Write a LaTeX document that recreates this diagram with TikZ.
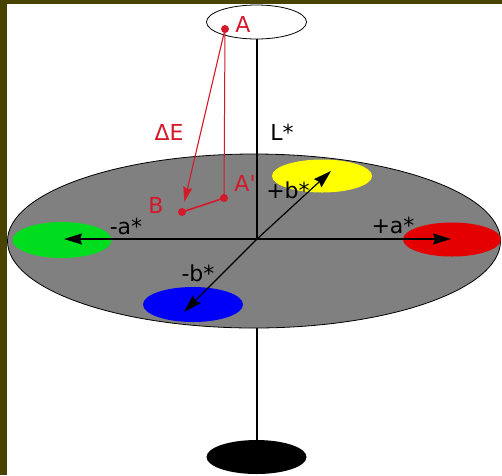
\documentclass[tikz,border=0pt]{standalone}
\usepackage{fontspec}
\setmainfont{DejaVu Sans}
\usetikzlibrary{shapes.geometric,arrows.meta,calc}
\definecolor{frameolive}{RGB}{72,68,0}
\definecolor{myred}{RGB}{212,26,42}
\definecolor{planegray}{RGB}{128,128,128}
\definecolor{spotgreen}{RGB}{0,220,30}
\definecolor{spotred}{RGB}{228,0,0}
\definecolor{spotblue}{RGB}{0,0,250}
\definecolor{spotyellow}{RGB}{255,255,0}
\begin{document}
\begin{tikzpicture}[x=1pt,y=-1pt,
  lbl/.style={font=\fontsize{22}{22}\selectfont, inner sep=0pt},
  redlbl/.style={lbl, text=myred},
  spot/.style={ellipse, minimum width=100pt, minimum height=34pt, inner sep=0pt},
  axarrow/.style={-{Stealth[length=18pt,width=11pt,inset=2pt]}, line width=1.2pt},
  dot/.style={circle, fill=myred, minimum size=8pt, inner sep=0pt}]
\fill[frameolive] (0,0) rectangle (502,475);
\fill[white] (7,4) rectangle (502,475);
\useasboundingbox (0,0) rectangle (502,475);
% plane
\node[ellipse, draw=black, line width=0.8pt, fill=planegray, minimum width=493pt, minimum height=174pt, inner sep=0pt] (plane) at (254,241) {};
% top and bottom ellipses
\node[spot, draw=black, line width=0.8pt, fill=white] (top) at (256.5,22) {};
\node[spot, fill=black] (bottom) at (256.5,457) {};
% coloured spots
\node[spot, fill=spotyellow, minimum height=33pt] (yellow) at (322,176) {};
\node[spot, fill=spotred, minimum width=98pt] (red) at (452,239.5) {};
\node[spot, fill=spotgreen, minimum width=99pt, minimum height=36pt] (green) at (62,240) {};
\node[spot, fill=spotblue, minimum height=35pt] (blue) at (193,304.5) {};
% axis
\coordinate (O) at (257,239);
\draw[line width=2pt] (top.south -| O) -- (O);
\draw[line width=2pt] (plane.south -| O) -- (bottom.north -| O);
% arrows
\coordinate (pa) at (451,239);
\coordinate (na) at (64,239);
\coordinate (pb) at (331,171);
\coordinate (nb) at (184,312);
\draw[axarrow] (O) -- (pa);
\draw[axarrow] (O) -- (na);
\draw[axarrow] (O) -- (pb);
\draw[axarrow] (O) -- (nb);
% labels
\node[lbl] (lL) at (282,132) {L*};
\node[lbl] (lpa) at (393,225) {+a*};
\node[lbl] (lna) at (126,226) {-a*};
\node[lbl] (lpb) at (288,190) {+b*};
\node[lbl] (lnb) at (198,273) {-b*};
% red points
\node[dot] (A) at (225,29) {};
\node[dot] (Ap) at (224,198) {};
\node[dot] (B) at (182,212) {};
\draw[myred, line width=1pt] (A.center) -- (Ap.center);
\draw[myred, line width=1.6pt] (B.center) -- (Ap.center);
\draw[myred, line width=1.1pt, -{Stealth[length=15pt,width=9pt,inset=2pt]}] (A.center) -- ($(A.center)!0.945!(B.center)$);
\node[redlbl] (lA) at (243,24) {A};
\node[redlbl] (lAp) at (245,183) {A\textquotesingle};
\node[redlbl] (lB) at (156,205) {B};
\node[redlbl] (lE) at (169,132) {ΔE};
\end{tikzpicture}
\end{document}
